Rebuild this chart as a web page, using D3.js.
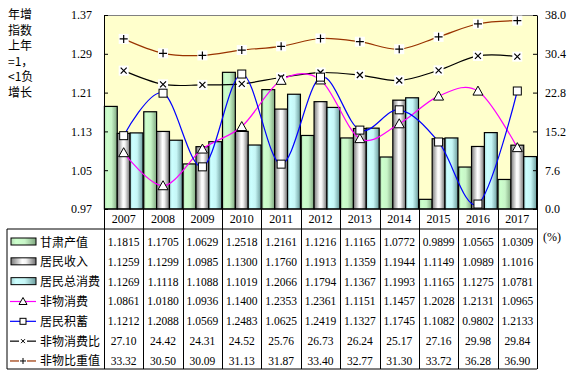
<!DOCTYPE html>
<html><head><meta charset="utf-8">
<script src="https://cdn.jsdelivr.net/npm/d3@7"></script>
<style>
html,body{margin:0;padding:0;background:#fff;}
svg{display:block;}
</style></head>
<body>
<svg id="c" width="577" height="376"></svg>
<script>
const years = ["2007","2008","2009","2010","2011","2012","2013","2014","2015","2016","2017"];
const gansu = [1.1815,1.1705,1.0629,1.2518,1.2161,1.1216,1.1165,1.0772,0.9899,1.0565,1.0309];
const income = [1.1259,1.1299,1.0985,1.1300,1.1760,1.1913,1.1359,1.1944,1.1149,1.0989,1.1016];
const consumption = [1.1269,1.1118,1.1088,1.1019,1.2066,1.1794,1.1367,1.1993,1.1165,1.1275,1.0781];
const nonMaterial = [1.0861,1.0180,1.0936,1.1400,1.2353,1.2361,1.1151,1.1457,1.2028,1.2131,1.0965];
const savings = [1.1212,1.2088,1.0569,1.2483,1.0625,1.2419,1.1327,1.1745,1.1082,0.9802,1.2133];
const ratio = [27.10,24.42,24.31,24.52,25.76,26.73,26.24,25.17,27.16,29.98,29.84];
const share = [33.32,30.50,30.09,31.13,31.87,33.40,32.77,31.30,33.72,36.28,36.90];
const leftTicks = [0.97,1.05,1.13,1.21,1.29,1.37];
const rightTicks = [0.0,7.6,15.2,22.8,30.4,38.0];
const seriesNames = ["甘肃产值","居民收入","居民总消费","非物消费","居民积蓄","非物消费比","非物比重值"];
const yTitle = ["年增","指数","上年","=1，","<1负","增长"];

const svg = d3.select("#c");
const L = 104, R = 537, T = 15, B = 209;
const tableBottom = 369, rowTop = 229;

const x = d3.scaleBand().domain(years).range([L, R]).paddingInner(0).paddingOuter(0);
const sub = d3.scaleBand().domain([0,1,2]).range([0, x.bandwidth()]).paddingInner(0).paddingOuter(0.03);
const yL = d3.scaleLinear().domain([0.97, 1.37]).range([B, T]);
const yR = d3.scaleLinear().domain([0, 38]).range([B, T]);

const defs = svg.append("defs");
function grad(id, stops){
  const g = defs.append("linearGradient").attr("id", id).attr("x1","0").attr("x2","1").attr("y1","0").attr("y2","0");
  stops.forEach(s => g.append("stop").attr("offset", s[0]).attr("stop-color", s[1]));
}
grad("gGreen", [[0,"#b4dcb4"],[0.2,"#ccffcc"],[0.55,"#c8f5c8"],[1,"#7fa67f"]]);
grad("gGray", [[0,"#7a7a7a"],[0.45,"#ffffff"],[0.6,"#f4f4f4"],[1,"#6e6e6e"]]);
grad("gCyan", [[0,"#a8d8d8"],[0.2,"#ccffff"],[0.55,"#c6f6f6"],[1,"#6c9c9c"]]);
defs.append("clipPath").attr("id","plotClip").append("rect").attr("x",L).attr("y",T).attr("width",R-L).attr("height",B-T);

// plot background
svg.append("rect").attr("x",L).attr("y",T).attr("width",R-L).attr("height",B-T).attr("fill","#ffffcc");
svg.append("line").attr("x1",L).attr("x2",R).attr("y1",T+0.5).attr("y2",T+0.5).attr("stroke","#808080");

// bars
const barSeries = [gansu, income, consumption];
const barFills = ["url(#gGreen)","url(#gGray)","url(#gCyan)"];
barSeries.forEach((vals, si) => {
  svg.append("g").selectAll("rect").data(vals).join("rect")
    .attr("x", (d,i) => x(years[i]) + sub(si))
    .attr("width", sub.bandwidth())
    .attr("y", d => yL(d))
    .attr("height", d => B - yL(d))
    .attr("fill", barFills[si])
    .attr("stroke", "#000").attr("stroke-width", 1.2);
});

// lines
const cx = i => x(years[i]) + x.bandwidth()/2;
const curve = d3.curveCardinal.tension(0);
const lineG = svg.append("g").attr("clip-path","url(#plotClip)");
function drawLine(vals, scale, color){
  const ln = d3.line().x((d,i)=>cx(i)).y(d=>scale(d)).curve(curve);
  lineG.append("path").attr("d", ln(vals)).attr("fill","none").attr("stroke",color).attr("stroke-width",1.2);
}
drawLine(share, yR, "#993300");
drawLine(ratio, yR, "#000000");
drawLine(nonMaterial, yL, "#ff00ff");
drawLine(savings, yL, "#0000ff");

// markers
function marker(g, type, px, py){
  if (type === "tri") {
    g.append("path").attr("d", `M${px},${py-5}L${px+5},${py+4}L${px-5},${py+4}Z`)
      .attr("fill","#fff").attr("stroke","#000").attr("stroke-width",1);
  } else if (type === "sq") {
    g.append("rect").attr("x",px-4).attr("y",py-4).attr("width",8).attr("height",8)
      .attr("fill","#fff").attr("stroke","#000").attr("stroke-width",1);
  } else if (type === "x") {
    g.append("rect").attr("x",px-5).attr("y",py-5).attr("width",10).attr("height",10).attr("fill","#fff");
    g.append("path").attr("d",`M${px-3},${py-3}L${px+3},${py+3}M${px+3},${py-3}L${px-3},${py+3}`)
      .attr("stroke","#000").attr("stroke-width",1.2);
  } else if (type === "plus") {
    g.append("rect").attr("x",px-5).attr("y",py-5).attr("width",10).attr("height",10).attr("fill","#fff");
    g.append("path").attr("d",`M${px-4},${py}L${px+4},${py}M${px},${py-4}L${px},${py+4}`)
      .attr("stroke","#000").attr("stroke-width",1.2);
  }
}
const mg = svg.append("g");
share.forEach((d,i)=>marker(mg,"plus",cx(i),yR(d)));
ratio.forEach((d,i)=>marker(mg,"x",cx(i),yR(d)));
nonMaterial.forEach((d,i)=>marker(mg,"tri",cx(i),yL(d)));
savings.forEach((d,i)=>marker(mg,"sq",cx(i),yL(d)));

// axes
const serif = "'Liberation Serif','Times New Roman',serif";
const cjk = "'Noto Sans CJK SC','Noto Sans CJK JP',sans-serif";
const axL = svg.append("g").attr("transform",`translate(${L},0)`)
  .call(d3.axisLeft(yL).tickValues(leftTicks).tickFormat(d3.format(".2f")).tickSizeInner(-4).tickSizeOuter(0).tickPadding(12));
const axR = svg.append("g").attr("transform",`translate(${R},0)`)
  .call(d3.axisRight(yR).tickValues(rightTicks).tickFormat(d3.format(".1f")).tickSizeInner(-4).tickSizeOuter(0).tickPadding(8));
[axL, axR].forEach(a => {
  a.selectAll("text").attr("font-family", serif).attr("font-size", 12).attr("fill","#000");
  a.selectAll("path,line").attr("stroke","#000");
});

// y title
svg.append("g").selectAll("text").data(yTitle).join("text")
  .attr("x", 8).attr("y", (d,i)=> 19 + i*15.5)
  .attr("font-family", cjk).attr("font-size", 12).attr("fill","#000").text(d=>d);

svg.append("text").attr("x",543).attr("y",241).attr("font-family",serif).attr("font-size",12).text("(%)");

// table
const tg = svg.append("g");
const stroke = "#000";
tg.append("line").attr("x1",L).attr("x2",R).attr("y1",B).attr("y2",B).attr("stroke",stroke);
tg.append("line").attr("x1",7).attr("x2",R).attr("y1",rowTop).attr("y2",rowTop).attr("stroke",stroke);
tg.append("line").attr("x1",7).attr("x2",R).attr("y1",tableBottom).attr("y2",tableBottom).attr("stroke",stroke);
tg.append("line").attr("x1",7).attr("x2",7).attr("y1",rowTop).attr("y2",tableBottom).attr("stroke",stroke);
const bounds = years.map(y=>x(y)).concat([R]);
tg.selectAll("line.v").data(bounds).join("line").attr("class","v")
  .attr("x1",d=>Math.round(d)+0.5).attr("x2",d=>Math.round(d)+0.5).attr("y1",B).attr("y2",tableBottom).attr("stroke",stroke);

// year labels
tg.selectAll("text.yr").data(years).join("text").attr("class","yr")
  .attr("x", d=>x(d)+x.bandwidth()/2).attr("y", 223)
  .attr("text-anchor","middle").attr("font-family",serif).attr("font-size",12).text(d=>d);

const tableRows = [gansu, income, consumption, nonMaterial, savings, ratio, share];
const fmts = [".4f",".4f",".4f",".4f",".4f",".2f",".2f"];
const rowY = i => 242 + i*19.83;
tableRows.forEach((vals, r) => {
  tg.append("g").selectAll("text").data(vals).join("text")
    .attr("x",(d,i)=>cx(i)).attr("y", rowY(r)+4)
    .attr("text-anchor","middle").attr("font-family",serif).attr("font-size",11.5).attr("fill","#000")
    .text(d=>d3.format(fmts[r])(d));
});

// legend
const lg = svg.append("g");
seriesNames.forEach((name, r) => {
  const cy = rowY(r);
  if (r < 3) {
    lg.append("rect").attr("x",11).attr("y",cy-4).attr("width",25).attr("height",7)
      .attr("fill",barFills[r]).attr("stroke","#000").attr("stroke-width",1);
  } else {
    const colors = ["#ff00ff","#0000ff","#000000","#993300"];
    const types = ["tri","sq","x","plus"];
    lg.append("line").attr("x1",10).attr("x2",36).attr("y1",cy).attr("y2",cy).attr("stroke",colors[r-3]).attr("stroke-width",1.2);
    if (types[r-3]==="tri") {
      lg.append("path").attr("d",`M23,${cy-4}L27,${cy+3}L19,${cy+3}Z`).attr("fill","#fff").attr("stroke","#000");
    } else if (types[r-3]==="sq") {
      lg.append("rect").attr("x",20).attr("y",cy-3).attr("width",6).attr("height",6).attr("fill","#fff").attr("stroke","#000");
    } else if (types[r-3]==="x") {
      lg.append("rect").attr("x",19).attr("y",cy-4).attr("width",8).attr("height",8).attr("fill","#fff");
      lg.append("path").attr("d",`M21,${cy-2}L25,${cy+2}M25,${cy-2}L21,${cy+2}`).attr("stroke","#000");
    } else {
      lg.append("rect").attr("x",19).attr("y",cy-4).attr("width",8).attr("height",8).attr("fill","#fff");
      lg.append("path").attr("d",`M20,${cy}L26,${cy}M23,${cy-3}L23,${cy+3}`).attr("stroke","#000");
    }
  }
  lg.append("text").attr("x",40).attr("y",cy+4.5).attr("font-family",cjk).attr("font-size",12).attr("fill","#000").text(name);
});
</script>
</body></html>
